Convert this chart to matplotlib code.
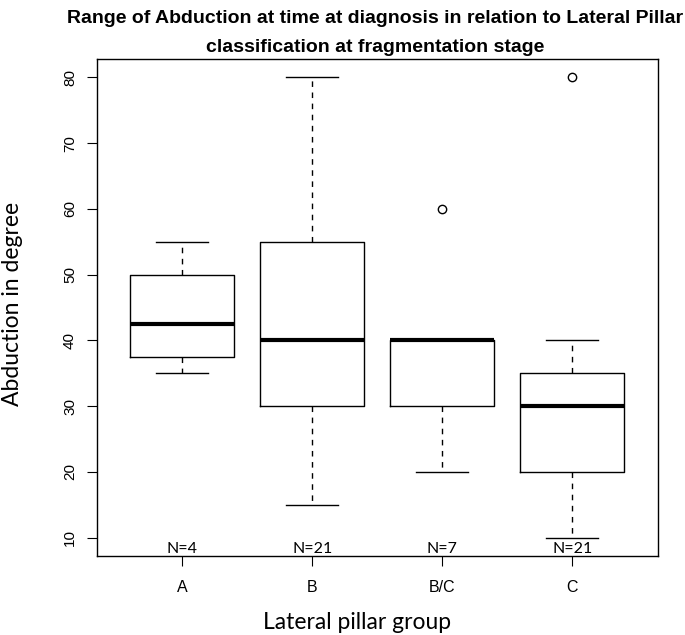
import matplotlib.pyplot as plt

# group labels and box statistics
groups = ['A', 'B', 'B/C', 'C']
counts = [4, 21, 7, 21]
whisker_low = [35, 15, 20, 10]
q1 = [37.5, 30, 30, 20]
median = [42.5, 40, 40, 30]
q3 = [50, 55, 40, 35]
whisker_high = [55, 80, 40, 40]
outliers = [[], [], [60], [80]]

stats = []
for i, g in enumerate(groups):
    stats.append({'label': g, 'whislo': whisker_low[i], 'q1': q1[i], 'med': median[i],
                  'q3': q3[i], 'whishi': whisker_high[i], 'fliers': outliers[i]})

W, H = 685, 635
fig = plt.figure(figsize=(W / 100, H / 100), dpi=100)
ax = fig.add_axes([96.5 / W, 1 - 556 / H, (658 - 96.5) / W, (556 - 59) / H])

pos = list(range(1, len(groups) + 1))
ax.bxp(stats, positions=pos, widths=0.8, showfliers=True,
       boxprops=dict(color='black', linewidth=1),
       medianprops=dict(color='black', linewidth=3, solid_capstyle='butt'),
       whiskerprops=dict(color='black', linewidth=1, linestyle=(0, (4, 4))),
       capprops=dict(color='black', linewidth=1),
       capwidths=0.4,
       flierprops=dict(marker='o', markerfacecolor='none', markeredgecolor='black',
                       markersize=6, markeredgewidth=1))

ax.set_xlim(0.34, 4.66)
ax.set_ylim(7.2, 82.8)
ax.set_yticks([10, 20, 30, 40, 50, 60, 70, 80])
ax.set_xticks(pos)
ax.set_xticklabels(groups, fontsize=11.5, family='Liberation Sans')
for lab in ax.get_yticklabels():
    lab.set_rotation(90)
    lab.set_va('center')
    lab.set_fontsize(11)
    lab.set_family('Liberation Sans')
ax.tick_params(length=7, width=0.8)
ax.tick_params(axis='x', pad=10)
ax.tick_params(axis='y', pad=7)
for s in ax.spines.values():
    s.set_linewidth(1)

for p, n in zip(pos, counts):
    ax.text(p, 7.65, 'N=%d' % n, ha='center', va='baseline', fontsize=11.5, family='Lato')

fig.text(357.5 / W, 1 - 629 / H, 'Lateral pillar group', ha='center', va='baseline',
         fontsize=16.5, family='Lato')
fig.text(13 / W, 1 - 303.5 / H, 'Abduction in degree', ha='center', va='center',
         rotation=90, fontsize=16.5, family='Lato')

fig.text(375 / W, 1 - 23 / H,
         'Range of Abduction at time at diagnosis in relation to Lateral Pillar',
         ha='center', va='baseline', fontsize=14, fontweight='bold', family='Liberation Sans')
fig.text(375 / W, 1 - 52 / H, 'classification at fragmentation stage',
         ha='center', va='baseline', fontsize=14, fontweight='bold', family='Liberation Sans')

plt.savefig('out.png', dpi=100)
plt.close()
